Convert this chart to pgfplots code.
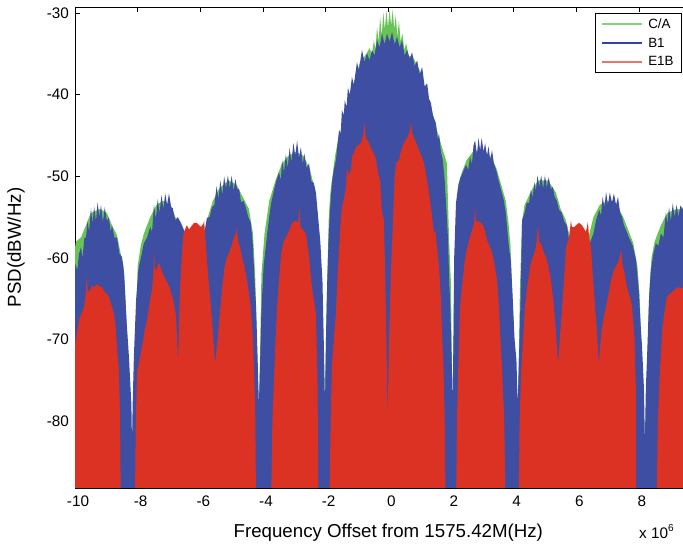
\documentclass[border=0pt]{standalone}
\usepackage{fontspec}
\setmainfont{Liberation Sans}
\usepackage{pgfplots}
\pgfplotsset{compat=1.18}
\definecolor{cagreen}{RGB}{104,196,84}
\definecolor{bblue}{RGB}{62,78,162}
\definecolor{ered}{RGB}{219,50,36}
\definecolor{legca}{RGB}{130,210,120}
\definecolor{legb}{RGB}{50,65,165}
\definecolor{lege}{RGB}{235,115,105}
\begin{document}
\begin{tikzpicture}
\useasboundingbox (0,0) rectangle (683bp,550bp);
\clip (0,0) rectangle (683bp,550bp);
\begin{axis}[
  at={(75bp,62bp)}, anchor=south west,
  scale only axis, width=626.6bp, height=481bp,
  xmin=-10, xmax=10, ymin=-88.2, ymax=-29.25,
  xtick={-10,-8,...,8}, ytick={-80,-70,...,-30},
  tick align=inside, tickpos=both, major tick length=5bp,
  axis line style={line width=0.8bp},
  every tick/.style={black, line width=0.6bp},
  /pgf/number format/assume math mode=true,
  ticklabel style={font=\fontsize{15.3bp}{18bp}\selectfont},
  xticklabel style={yshift=-4.5bp, xshift=3bp},
  yticklabel style={xshift=-2.5bp},
  xlabel={Frequency Offset from 1575.42M(Hz)},
  ylabel={PSD(dBW/Hz)},
  label style={font=\fontsize{18.7bp}{22bp}\selectfont},
  xlabel style={at={(axis description cs:0.5,0)}, anchor=base, yshift=-50bp},
  ylabel style={at={(axis description cs:-0.0942,0.5)}, anchor=center},
  legend style={at={(axis description cs:0.9687,0.9875)}, anchor=north east,
    draw=black, line width=0.8bp, fill=white,
    font=\fontsize{13.4bp}{16bp}\selectfont,
    inner xsep=6bp, inner ysep=3bp, row sep=4.2bp, column sep=3bp,
    legend cell align=left},
  legend image code/.code={\draw[#1, line width=1.8bp] (0bp,0bp) -- (40bp,0bp);},
]
% C/A
\addplot[fill=cagreen, draw=none, forget plot] coordinates {
(-10.05,-95)(-10.05,-60)(-9.97,-58)(-9.81,-57.5)(-9.65,-56)(-9.5,-54.5)(-9.2,-54)(-8.98,-54.5)(-8.82,-56)(-8.66,-57.2)(-8.55,-59.3)(-8.45,-61)(-8.4,-64.3)(-8.33,-70)(-8.18,-83)(-8.06,-70)(-8.0,-61)(-7.9,-58.5)(-7.8,-57)(-7.6,-55)(-7.4,-53.5)(-7.2,-53)(-6.95,-53.5)(-6.8,-55)(-6.6,-56)(-6.45,-57.5)(-6.3,-62)(-6.15,-66)(-6.0,-62)(-5.9,-57.5)(-5.8,-55.5)(-5.6,-53)(-5.4,-51.5)(-5.1,-50.5)(-4.85,-51)(-4.65,-52.5)(-4.45,-54)(-4.32,-57)(-4.25,-62)(-4.13,-80)(-4.05,-62)(-3.95,-57)(-3.8,-53)(-3.6,-50.5)(-3.4,-48.5)(-3.2,-47.5)(-2.95,-47)(-2.7,-47.5)(-2.5,-49.2)(-2.35,-51.5)(-2.25,-55)(-2.17,-59)(-2.1,-66)(-2.04,-80)(-1.97,-66)(-1.9,-55)(-1.85,-52)(-1.7,-47.5)(-1.6,-45.5)(-1.45,-43.5)(-1.3,-41.5)(-1.1,-38.5)(-0.9,-36)(-0.7,-35)(-0.6,-34.3)(-0.52,-35)(-0.46,-33.3)(-0.41,-34.5)(-0.36,-31.7)(-0.31,-33.5)(-0.26,-30.5)(-0.21,-32.8)(-0.16,-29.9)(-0.11,-32)(-0.06,-29.7)(-0.01,-31.8)(0.04,-29.6)(0.09,-31.5)(0.14,-29.6)(0.19,-32)(0.24,-30.2)(0.29,-33)(0.34,-30.9)(0.39,-33.5)(0.45,-32.5)(0.51,-34.5)(0.57,-33.7)(0.65,-35.2)(0.8,-35.5)(1.0,-37)(1.2,-39.5)(1.4,-42)(1.55,-44.3)(1.71,-46.4)(1.87,-48.4)(1.94,-57.8)(2.0,-63.1)(2.05,-80)(2.1,-63)(2.16,-56)(2.23,-51)(2.35,-49.5)(2.5,-48)(2.7,-47)(3.0,-46.7)(3.25,-47.5)(3.45,-49)(3.6,-51)(3.75,-53)(3.83,-55.5)(3.9,-58.5)(3.95,-64)(4.13,-80)(4.2,-64)(4.27,-55.4)(4.35,-53.5)(4.6,-51.5)(4.8,-50.5)(5.1,-50.5)(5.35,-52)(5.5,-54)(5.67,-55.4)(5.8,-57.5)(6.0,-62)(6.13,-66)(6.27,-62)(6.42,-57)(6.55,-55)(6.75,-53.5)(7.0,-53)(7.3,-53.5)(7.5,-55)(7.7,-57)(7.82,-58.2)(7.95,-61)(8.02,-64.5)(8.19,-83)(8.33,-64)(8.4,-60)(8.5,-58)(8.7,-56)(8.9,-54.5)(9.2,-54)(9.5,-54.2)(9.5,-95)
};
% B1
\addplot[fill=bblue, draw=none, forget plot] coordinates {
(-10.05,-95)(-10.05,-61.5)(-10.0,-60.6)(-9.93,-61.5)(-9.87,-59.5)(-9.81,-58.7)(-9.76,-60)(-9.7,-57.5)(-9.65,-57.5)(-9.6,-55.5)(-9.55,-56.8)(-9.49,-53.9)(-9.44,-55.8)(-9.39,-53.7)(-9.33,-55.5)(-9.28,-53.2)(-9.22,-55)(-9.17,-53.5)(-9.11,-55.6)(-9.05,-53.8)(-8.98,-55.5)(-8.92,-55)(-8.86,-56.8)(-8.82,-56.0)(-8.74,-57.5)(-8.66,-57.5)(-8.58,-59.5)(-8.5,-59.9)(-8.43,-62)(-8.4,-64.3)(-8.35,-68)(-8.28,-72)(-8.2,-78)(-8.18,-83)(-8.16,-78)(-8.12,-72)(-8.05,-65.2)(-7.98,-61.5)(-7.9,-60)(-7.8,-58.2)(-7.7,-57.5)(-7.6,-56.2)(-7.54,-56.8)(-7.48,-53.5)(-7.42,-55.2)(-7.36,-52.8)(-7.3,-54.5)(-7.24,-52.3)(-7.18,-54)(-7.12,-52.1)(-7.06,-53.5)(-7.0,-52.1)(-6.93,-53.8)(-6.88,-53.9)(-6.8,-55.4)(-6.72,-55.0)(-6.62,-55.7)(-6.52,-56.6)(-6.45,-58)(-6.3,-62)(-6.15,-66)(-6.05,-62)(-5.95,-58)(-5.85,-56.5)(-5.79,-55.1)(-5.7,-55)(-5.63,-53.8)(-5.55,-53.5)(-5.48,-51.2)(-5.42,-52.8)(-5.36,-50.5)(-5.3,-52.3)(-5.24,-50.0)(-5.18,-51.5)(-5.12,-49.9)(-5.06,-51.5)(-5.0,-49.9)(-4.94,-51.8)(-4.88,-50.3)(-4.83,-51.5)(-4.76,-51.6)(-4.70,-53.2)(-4.62,-53.0)(-4.55,-53.8)(-4.47,-55)(-4.39,-55.7)(-4.33,-58)(-4.28,-61.9)(-4.22,-66)(-4.17,-72.5)(-4.13,-78)(-4.09,-72.5)(-4.05,-66.4)(-3.98,-61)(-3.9,-58.2)(-3.82,-55.5)(-3.74,-53.3)(-3.65,-51.7)(-3.57,-50.5)(-3.49,-49.5)(-3.43,-50.5)(-3.39,-48.0)(-3.33,-49.5)(-3.27,-47.3)(-3.21,-49)(-3.15,-46.5)(-3.09,-48.3)(-3.03,-45.9)(-2.97,-47.5)(-2.91,-45.6)(-2.85,-47.8)(-2.79,-46.4)(-2.73,-48.5)(-2.68,-47.2)(-2.61,-49)(-2.53,-48.4)(-2.46,-50.6)(-2.38,-50.8)(-2.31,-52)(-2.24,-55)(-2.17,-58)(-2.1,-63)(-2.05,-72)(-2.02,-78)(-1.99,-70)(-1.95,-63)(-1.9,-57)(-1.86,-54.1)(-1.8,-50.8)(-1.73,-49)(-1.67,-48.0)(-1.62,-46)(-1.57,-44.3)(-1.52,-44.8)(-1.48,-41.9)(-1.42,-42.5)(-1.39,-40.7)(-1.33,-41.5)(-1.29,-39.1)(-1.23,-40)(-1.16,-37.8)(-1.10,-38.8)(-1.0,-36.0)(-0.94,-37)(-0.84,-34.5)(-0.76,-36)(-0.68,-34.9)(-0.6,-35.8)(-0.52,-34.5)(-0.44,-35.2)(-0.36,-33.3)(-0.28,-34.2)(-0.2,-32.5)(-0.12,-33.8)(-0.04,-32.5)(0.04,-33.5)(0.12,-32.3)(0.2,-33.8)(0.28,-32.9)(0.36,-34.2)(0.44,-33.3)(0.52,-35.2)(0.6,-34.5)(0.68,-35.6)(0.76,-34.8)(0.84,-36.5)(0.92,-35.8)(1.0,-37.5)(1.08,-36.6)(1.16,-39)(1.24,-38.6)(1.3,-40.5)(1.36,-41.0)(1.42,-42.5)(1.52,-43.5)(1.58,-45.5)(1.62,-44.8)(1.68,-47)(1.74,-48)(1.8,-50.5)(1.87,-55)(1.91,-58)(1.94,-62.4)(1.98,-66)(2.02,-72)(2.05,-78)(2.08,-70)(2.1,-60.3)(2.16,-53.3)(2.22,-51.5)(2.3,-50.2)(2.38,-49.5)(2.48,-48.6)(2.55,-49.2)(2.61,-47.6)(2.67,-48.5)(2.72,-46.2)(2.77,-45.6)(2.83,-47.3)(2.88,-45.3)(2.93,-46.8)(2.98,-45.3)(3.04,-47.0)(3.09,-45.9)(3.15,-47.5)(3.2,-46.3)(3.25,-48)(3.31,-46.8)(3.37,-48.4)(3.44,-49.2)(3.52,-50.5)(3.6,-51.7)(3.68,-52.8)(3.75,-54.5)(3.85,-58.7)(3.91,-60.3)(3.96,-64)(4.03,-70)(4.09,-72.5)(4.13,-78)(4.17,-72.5)(4.22,-65.2)(4.27,-55.4)(4.35,-54.5)(4.42,-53.2)(4.49,-53.3)(4.55,-51.7)(4.61,-52.6)(4.66,-50.7)(4.71,-51.8)(4.76,-49.9)(4.82,-51.3)(4.88,-49.9)(4.94,-51.5)(5.0,-49.9)(5.06,-51.4)(5.12,-50.1)(5.19,-51.6)(5.25,-51.3)(5.31,-52.5)(5.38,-53)(5.45,-54.1)(5.54,-54.5)(5.62,-55.6)(5.7,-56)(5.85,-60)(6.0,-64)(6.13,-66)(6.25,-62)(6.45,-58)(6.55,-57)(6.63,-55.4)(6.73,-54.1)(6.79,-54.8)(6.84,-52.5)(6.9,-53.8)(6.95,-51.9)(7.01,-53.5)(7.07,-52)(7.14,-53.2)(7.2,-52.1)(7.27,-53.5)(7.33,-52.5)(7.4,-54.5)(7.46,-55)(7.52,-56)(7.59,-56.6)(7.68,-57.5)(7.8,-58.5)(7.91,-60.3)(8.0,-64.3)(8.05,-68)(8.1,-71)(8.16,-76)(8.19,-82.6)(8.22,-76)(8.27,-71)(8.32,-65.2)(8.38,-61.5)(8.46,-59.5)(8.54,-58.2)(8.62,-58.5)(8.7,-57)(8.78,-57.5)(8.86,-54.5)(8.91,-55.8)(8.96,-53.8)(9.02,-55.5)(9.08,-53.3)(9.14,-55)(9.2,-53.5)(9.26,-55)(9.32,-53.6)(9.5,-54.5)(9.5,-95)
};
% E1B
\addplot[fill=ered, draw=none, forget plot] coordinates {
(-10.05,-95)(-10.05,-72)(-9.97,-70)(-9.87,-67.6)(-9.76,-66.5)(-9.71,-66)(-9.66,-64.5)(-9.62,-62.1)(-9.59,-64.3)(-9.52,-63.9)(-9.45,-63.4)(-9.39,-63.6)(-9.3,-63.2)(-9.22,-63.5)(-9.14,-63.6)(-9.05,-64.2)(-8.98,-64.4)(-8.92,-64.8)(-8.82,-66)(-8.76,-66.8)(-8.7,-68.5)(-8.66,-70.9)(-8.6,-73.8)(-8.56,-80)(-8.53,-95)(-8.1,-95)(-8.06,-80)(-8.02,-74)(-7.94,-72.5)(-7.86,-70.9)(-7.78,-69)(-7.70,-67.6)(-7.62,-65.5)(-7.54,-63.9)(-7.5,-62)(-7.48,-59.0)(-7.45,-61.5)(-7.38,-61.2)(-7.32,-60.6)(-7.26,-61.3)(-7.2,-61.9)(-7.09,-62.8)(-7.0,-63.5)(-6.93,-64.3)(-6.85,-65.5)(-6.78,-67)(-6.74,-70)(-6.71,-73)(-6.68,-68)(-6.65,-64)(-6.6,-60.3)(-6.55,-57.5)(-6.52,-56.8)(-6.43,-56.0)(-6.36,-56.5)(-6.3,-56.2)(-6.2,-55.7)(-6.11,-55.7)(-6.04,-56.0)(-5.98,-56.2)(-5.9,-55.8)(-5.88,-55.4)(-5.84,-57.5)(-5.79,-60.3)(-5.72,-63.6)(-5.66,-66)(-5.6,-69)(-5.53,-73)(-5.45,-70)(-5.37,-66.5)(-5.31,-64)(-5.24,-61.5)(-5.18,-60.3)(-5.1,-59.5)(-5.02,-58.7)(-4.93,-57.5)(-4.86,-57)(-4.83,-56.2)(-4.8,-58)(-4.74,-58.6)(-4.67,-59.9)(-4.61,-60.8)(-4.55,-61.9)(-4.45,-64.3)(-4.39,-66)(-4.32,-70)(-4.25,-78)(-4.21,-95)(-3.76,-95)(-3.7,-80)(-3.62,-72)(-3.55,-66)(-3.49,-62.7)(-3.42,-59.5)(-3.35,-58.1)(-3.23,-57.2)(-3.15,-56.5)(-3.07,-55.7)(-2.95,-55.4)(-2.88,-55.8)(-2.84,-53.8)(-2.8,-56.2)(-2.72,-56.6)(-2.63,-57.0)(-2.58,-58.5)(-2.53,-59.9)(-2.44,-63.6)(-2.36,-65.5)(-2.31,-67)(-2.26,-75)(-2.22,-95)(-1.9,-95)(-1.84,-80)(-1.80,-73.4)(-1.72,-69)(-1.67,-66.8)(-1.62,-62)(-1.57,-58.7)(-1.52,-55.5)(-1.48,-53.8)(-1.4,-52.5)(-1.35,-51.3)(-1.32,-48.9)(-1.27,-49.8)(-1.19,-49.2)(-1.16,-47.6)(-1.08,-47.0)(-1.03,-46.4)(-0.95,-46.2)(-0.87,-45.9)(-0.8,-44.9)(-0.76,-43.4)(-0.72,-45.2)(-0.66,-45.6)(-0.58,-46.3)(-0.52,-46.8)(-0.45,-47.3)(-0.39,-48.0)(-0.33,-49.6)(-0.26,-50.5)(-0.21,-54.1)(-0.14,-55.4)(-0.1,-62)(-0.06,-70.4)(-0.02,-80)(0.02,-70.4)(0.08,-62)(0.15,-55.4)(0.2,-50)(0.25,-48.4)(0.34,-48.0)(0.41,-46.8)(0.50,-45.9)(0.6,-45.3)(0.67,-44.7)(0.72,-43.4)(0.76,-44.7)(0.82,-45.3)(0.88,-45.8)(0.98,-46.8)(1.06,-47.5)(1.14,-48.4)(1.24,-50.5)(1.3,-52)(1.36,-53.8)(1.41,-55.4)(1.46,-57)(1.5,-56.6)(1.55,-58.5)(1.62,-61.1)(1.68,-65)(1.71,-68.8)(1.76,-73.4)(1.8,-80)(1.84,-95)(2.15,-95)(2.19,-80)(2.23,-73.8)(2.29,-66.0)(2.35,-63.6)(2.42,-61)(2.48,-59.4)(2.58,-57.8)(2.67,-56.6)(2.74,-55.8)(2.77,-53.8)(2.8,-55.6)(2.88,-55.5)(2.96,-55.7)(3.05,-56.2)(3.15,-57.8)(3.28,-59.0)(3.37,-60.3)(3.47,-62.7)(3.53,-66)(3.58,-70)(3.63,-73.8)(3.7,-80)(3.76,-95)(4.15,-95)(4.19,-80)(4.24,-73.8)(4.3,-70)(4.36,-66)(4.43,-63.6)(4.55,-60.6)(4.65,-59.5)(4.71,-58.7)(4.76,-57)(4.78,-56.0)(4.82,-58.2)(4.87,-58.2)(4.97,-59.4)(5.07,-60.3)(5.19,-62.7)(5.29,-66)(5.35,-69)(5.42,-73)(5.49,-69)(5.55,-66)(5.62,-62)(5.67,-58.7)(5.77,-57.5)(5.83,-55.4)(5.86,-56.2)(5.94,-56.2)(5.99,-56.0)(6.09,-55.7)(6.18,-56.0)(6.26,-56.5)(6.31,-56.8)(6.37,-55.6)(6.41,-57.5)(6.47,-58.7)(6.53,-62.4)(6.6,-66)(6.66,-69)(6.72,-73)(6.8,-69)(6.89,-67)(6.95,-66)(7.05,-64)(7.11,-62.7)(7.2,-61.5)(7.3,-60.8)(7.36,-60.3)(7.43,-59.0)(7.48,-61)(7.52,-61.5)(7.62,-63.6)(7.74,-65.2)(7.78,-66)(7.86,-70)(7.9,-76)(7.92,-95)(8.55,-95)(8.6,-80)(8.67,-73.8)(8.75,-68.5)(8.82,-66.5)(8.89,-64.8)(8.96,-64.5)(9.06,-64.2)(9.15,-63.8)(9.28,-63.6)(9.5,-63.8)(9.5,-95)
};
\addlegendimage{draw=legca}
\addlegendentry{C/A}
\addlegendimage{draw=legb}
\addlegendentry{B1}
\addlegendimage{draw=lege}
\addlegendentry{E1B}
\end{axis}
\node[anchor=base west, inner sep=0pt, font=\fontsize{15.3bp}{18bp}\selectfont] at (639bp,12bp) {x 10\raisebox{7bp}{\fontsize{10bp}{12bp}\selectfont 6}};
\end{tikzpicture}
\end{document}
